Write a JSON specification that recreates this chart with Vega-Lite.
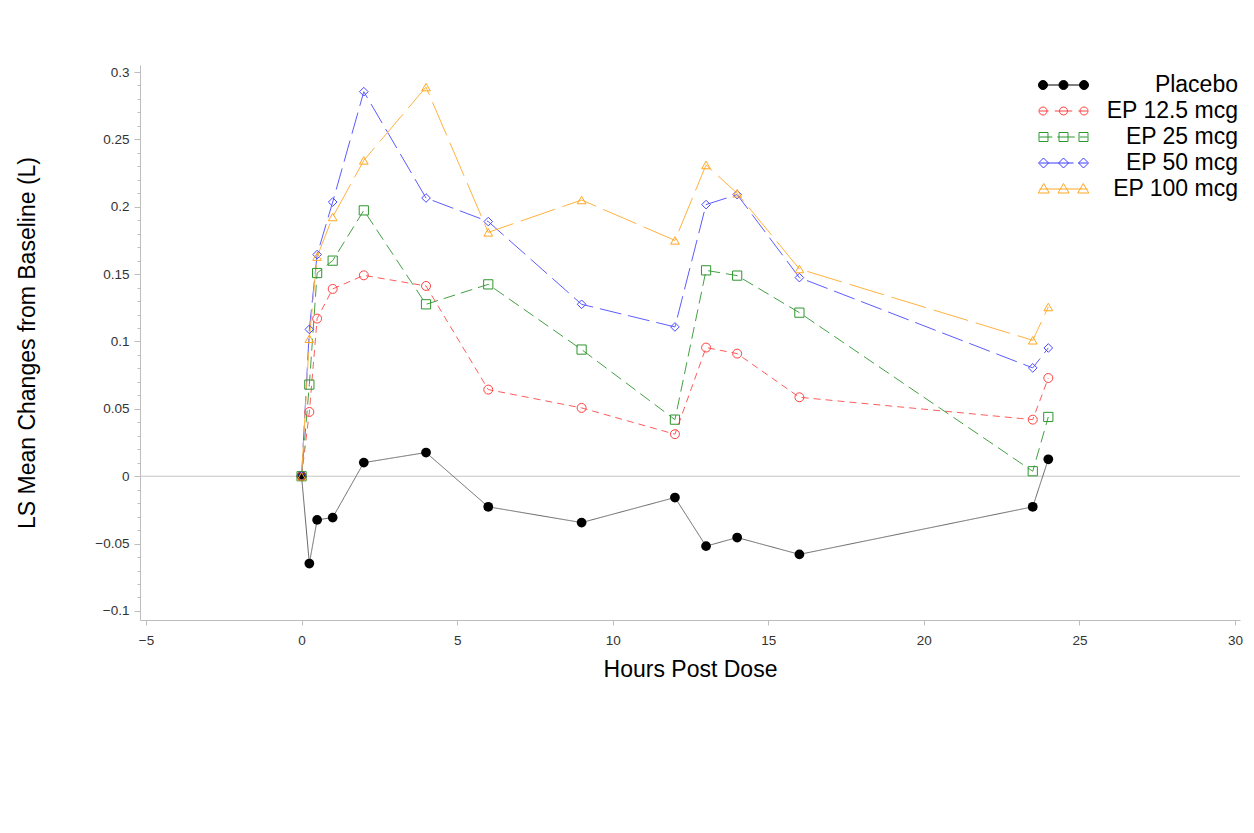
{
  "$schema": "https://vega.github.io/schema/vega-lite/v6.json",
  "width": 1100,
  "height": 555,
  "autosize": {"type": "none"},
  "padding": {"left": 140, "top": 65, "right": 14, "bottom": 213},
  "background": "white",
  "config": {
    "view": {"stroke": null},
    "font": "Liberation Sans",
    "axis": {
      "domainColor": "#BDBDBD",
      "tickColor": "#BDBDBD",
      "grid": false,
      "labelFont": "Liberation Sans",
      "labelColor": "#333333",
      "labelFontSize": 13.5,
      "titleFont": "Liberation Sans",
      "titleFontSize": 23,
      "titleFontWeight": "normal",
      "titleColor": "#000000"
    },
    "legend": {
      "orient": "none",
      "legendX": 898,
      "legendY": 7,
      "padding": 0,
      "labelFont": "Liberation Sans",
      "labelFontSize": 23,
      "labelColor": "#000000",
      "labelAlign": "right",
      "labelOffset": 149,
      "labelLimit": 400,
      "symbolSize": 2500,
      "symbolStrokeWidth": 1,
      "clipHeight": 26,
      "rowPadding": 0
    }
  },
  "data": {
    "values": [
      {"series": "Placebo", "hours": 0, "change": 0},
      {"series": "Placebo", "hours": 0.25, "change": -0.0648},
      {"series": "Placebo", "hours": 0.5, "change": -0.0324},
      {"series": "Placebo", "hours": 1, "change": -0.0307},
      {"series": "Placebo", "hours": 2, "change": 0.0101},
      {"series": "Placebo", "hours": 4, "change": 0.0176},
      {"series": "Placebo", "hours": 6, "change": -0.0227},
      {"series": "Placebo", "hours": 9, "change": -0.0344},
      {"series": "Placebo", "hours": 12, "change": -0.0158},
      {"series": "Placebo", "hours": 13, "change": -0.0519},
      {"series": "Placebo", "hours": 14, "change": -0.0455},
      {"series": "Placebo", "hours": 16, "change": -0.058},
      {"series": "Placebo", "hours": 23.5, "change": -0.0227},
      {"series": "Placebo", "hours": 24, "change": 0.0126},
      {"series": "EP 12.5 mcg", "hours": 0, "change": 0},
      {"series": "EP 12.5 mcg", "hours": 0.25, "change": 0.0477},
      {"series": "EP 12.5 mcg", "hours": 0.5, "change": 0.117},
      {"series": "EP 12.5 mcg", "hours": 1, "change": 0.139},
      {"series": "EP 12.5 mcg", "hours": 2, "change": 0.1491},
      {"series": "EP 12.5 mcg", "hours": 4, "change": 0.1412},
      {"series": "EP 12.5 mcg", "hours": 6, "change": 0.0643},
      {"series": "EP 12.5 mcg", "hours": 9, "change": 0.0507},
      {"series": "EP 12.5 mcg", "hours": 12, "change": 0.0312},
      {"series": "EP 12.5 mcg", "hours": 13, "change": 0.0955},
      {"series": "EP 12.5 mcg", "hours": 14, "change": 0.091},
      {"series": "EP 12.5 mcg", "hours": 16, "change": 0.0586},
      {"series": "EP 12.5 mcg", "hours": 23.5, "change": 0.042},
      {"series": "EP 12.5 mcg", "hours": 24, "change": 0.0729},
      {"series": "EP 25 mcg", "hours": 0, "change": 0},
      {"series": "EP 25 mcg", "hours": 0.25, "change": 0.068},
      {"series": "EP 25 mcg", "hours": 0.5, "change": 0.1508},
      {"series": "EP 25 mcg", "hours": 1, "change": 0.16},
      {"series": "EP 25 mcg", "hours": 2, "change": 0.1973},
      {"series": "EP 25 mcg", "hours": 4, "change": 0.1276},
      {"series": "EP 25 mcg", "hours": 6, "change": 0.1424},
      {"series": "EP 25 mcg", "hours": 9, "change": 0.094},
      {"series": "EP 25 mcg", "hours": 12, "change": 0.042},
      {"series": "EP 25 mcg", "hours": 13, "change": 0.1528},
      {"series": "EP 25 mcg", "hours": 14, "change": 0.1489},
      {"series": "EP 25 mcg", "hours": 16, "change": 0.1214},
      {"series": "EP 25 mcg", "hours": 23.5, "change": 0.0037},
      {"series": "EP 25 mcg", "hours": 24, "change": 0.044},
      {"series": "EP 50 mcg", "hours": 0, "change": 0},
      {"series": "EP 50 mcg", "hours": 0.25, "change": 0.109},
      {"series": "EP 50 mcg", "hours": 0.5, "change": 0.1645},
      {"series": "EP 50 mcg", "hours": 1, "change": 0.2035},
      {"series": "EP 50 mcg", "hours": 2, "change": 0.2854},
      {"series": "EP 50 mcg", "hours": 4, "change": 0.2065},
      {"series": "EP 50 mcg", "hours": 6, "change": 0.189},
      {"series": "EP 50 mcg", "hours": 9, "change": 0.1276},
      {"series": "EP 50 mcg", "hours": 12, "change": 0.1108},
      {"series": "EP 50 mcg", "hours": 13, "change": 0.2016},
      {"series": "EP 50 mcg", "hours": 14, "change": 0.209},
      {"series": "EP 50 mcg", "hours": 16, "change": 0.1474},
      {"series": "EP 50 mcg", "hours": 23.5, "change": 0.0804},
      {"series": "EP 50 mcg", "hours": 24, "change": 0.0952},
      {"series": "EP 100 mcg", "hours": 0, "change": 0},
      {"series": "EP 100 mcg", "hours": 0.25, "change": 0.102},
      {"series": "EP 100 mcg", "hours": 0.5, "change": 0.163},
      {"series": "EP 100 mcg", "hours": 1, "change": 0.1924},
      {"series": "EP 100 mcg", "hours": 2, "change": 0.2344},
      {"series": "EP 100 mcg", "hours": 4, "change": 0.2888},
      {"series": "EP 100 mcg", "hours": 6, "change": 0.181},
      {"series": "EP 100 mcg", "hours": 9, "change": 0.205},
      {"series": "EP 100 mcg", "hours": 12, "change": 0.175},
      {"series": "EP 100 mcg", "hours": 13, "change": 0.231},
      {"series": "EP 100 mcg", "hours": 14, "change": 0.21},
      {"series": "EP 100 mcg", "hours": 16, "change": 0.1538},
      {"series": "EP 100 mcg", "hours": 23.5, "change": 0.1009},
      {"series": "EP 100 mcg", "hours": 24, "change": 0.1256}
    ]
  },
  "encoding": {
    "x": {
      "field": "hours",
      "type": "quantitative",
      "title": "Hours Post Dose",
      "scale": {"domain": [-5.193, 30.161], "nice": false, "zero": false},
      "axis": {
        "values": [-5, 0, 5, 10, 15, 20, 25, 30],
        "tickSize": 5,
        "labelPadding": 8,
        "titlePadding": 12
      }
    },
    "y": {
      "field": "change",
      "type": "quantitative",
      "title": "LS Mean Changes from Baseline (L)",
      "scale": {"domain": [-0.1067, 0.3052], "nice": false, "zero": false},
      "axis": {
        "values": [-0.1, -0.09, -0.08, -0.07, -0.06, -0.05, -0.04, -0.03, -0.02, -0.01, 0, 0.01, 0.02, 0.03, 0.04, 0.05, 0.06, 0.07, 0.08, 0.09, 0.1, 0.11, 0.12, 0.13, 0.14, 0.15, 0.16, 0.17, 0.18, 0.19, 0.2, 0.21, 0.22, 0.23, 0.24, 0.25, 0.26, 0.27, 0.28, 0.29, 0.3],
        "format": "~g",
        "labelExpr": "abs(round(datum.value*100)) % 5 == 0 ? datum.label : ''",
        "tickSize": {"condition": {"test": "abs(round(datum.value*100)) % 5 == 0", "value": 6}, "value": 3},
        "labelPadding": 5,
        "titlePadding": 55
      }
    }
  },
  "layer": [
    {
      "data": {"values": [{"base": 0}]},
      "mark": {"type": "rule", "color": "#C4C4C4", "strokeWidth": 1},
      "encoding": {"x": null, "y": {"field": "base", "type": "quantitative"}}
    },
    {
      "mark": {"type": "line", "strokeWidth": 1},
      "encoding": {
        "detail": {"field": "series", "type": "nominal"},
        "stroke": {
          "field": "series",
          "type": "nominal",
          "scale": {
            "domain": ["EP 100 mcg", "EP 50 mcg", "EP 25 mcg", "EP 12.5 mcg", "Placebo"],
            "range": ["#FFB23F", "#5C5CFF", "#45A045", "#FF5C5C", "#666666"]
          },
          "legend": null
        },
        "strokeDash": {
          "field": "series",
          "type": "nominal",
          "scale": {
            "domain": ["EP 100 mcg", "EP 50 mcg", "EP 25 mcg", "EP 12.5 mcg", "Placebo"],
            "range": [[36, 8], [22, 7], [12, 6], [7, 5], [1, 0]]
          },
          "legend": null
        }
      }
    },
    {
      "transform": [{"filter": "datum.series == 'Placebo'"}],
      "mark": {"type": "point", "shape": "circle", "filled": true, "color": "#000000", "size": 95, "opacity": 1}
    },
    {
      "transform": [{"filter": "datum.series == 'EP 12.5 mcg'"}],
      "mark": {"type": "point", "shape": "circle", "filled": false, "color": "#FF4040", "size": 80, "strokeWidth": 1, "opacity": 1}
    },
    {
      "transform": [{"filter": "datum.series == 'EP 25 mcg'"}],
      "mark": {"type": "point", "shape": "square", "filled": false, "color": "#2E962E", "size": 85, "strokeWidth": 1, "opacity": 1}
    },
    {
      "transform": [{"filter": "datum.series == 'EP 50 mcg'"}],
      "mark": {"type": "point", "shape": "diamond", "filled": false, "color": "#4848FF", "size": 75, "strokeWidth": 1, "opacity": 1}
    },
    {
      "transform": [{"filter": "datum.series == 'EP 100 mcg'"}],
      "mark": {"type": "point", "shape": "triangle-up", "filled": false, "color": "#FFA722", "size": 75, "strokeWidth": 1, "opacity": 1}
    },
    {
      "data": {"values": []},
      "mark": {"type": "point", "filled": false, "opacity": 1, "strokeWidth": 1},
      "encoding": {
        "x": null,
        "y": null,
        "shape": {
          "field": "series",
          "type": "nominal",
          "title": null,
          "scale": {
            "domain": ["Placebo", "EP 12.5 mcg", "EP 25 mcg", "EP 50 mcg", "EP 100 mcg"],
            "range": [
              "M-0.95,0L0.95,0M-1,0a0.18,0.18 0 1,0 0.36,0a0.18,0.18 0 1,0 -0.36,0M-0.18,0a0.18,0.18 0 1,0 0.36,0a0.18,0.18 0 1,0 -0.36,0M0.64,0a0.18,0.18 0 1,0 0.36,0a0.18,0.18 0 1,0 -0.36,0",
              "M-0.96,0L-0.6,0M-0.35,0L0.35,0M0.6,0L0.96,0M-0.98,0a0.16,0.16 0 1,0 0.32,0a0.16,0.16 0 1,0 -0.32,0M-0.16,0a0.16,0.16 0 1,0 0.32,0a0.16,0.16 0 1,0 -0.32,0M0.66,0a0.16,0.16 0 1,0 0.32,0a0.16,0.16 0 1,0 -0.32,0",
              "M-0.96,0L-0.45,0M-0.25,0L0.45,0M0.65,0L0.96,0M-0.98,-0.18h0.36v0.36h-0.36ZM-0.18,-0.18h0.36v0.36h-0.36ZM0.62,-0.18h0.36v0.36h-0.36Z",
              "M-0.96,0L0.4,0M0.6,0L0.96,0M-0.8,-0.2L-0.6,0L-0.8,0.2L-1,0ZM0,-0.2L0.2,0L0,0.2L-0.2,0ZM0.8,-0.2L1,0L0.8,0.2L0.6,0Z",
              "M-0.96,0L0.96,0M-0.79,-0.22L-0.57,0.16L-1.01,0.16ZM0,-0.22L0.22,0.16L-0.22,0.16ZM0.79,-0.22L1.01,0.16L0.57,0.16Z"
            ]
          }
        },
        "color": {
          "field": "series",
          "type": "nominal",
          "title": null,
          "scale": {
            "domain": ["Placebo", "EP 12.5 mcg", "EP 25 mcg", "EP 50 mcg", "EP 100 mcg"],
            "range": ["#000000", "#FF4040", "#2E962E", "#3C3CFF", "#FFA722"]
          }
        },
        "fill": {
          "field": "series",
          "type": "nominal",
          "title": null,
          "scale": {
            "domain": ["Placebo", "EP 12.5 mcg", "EP 25 mcg", "EP 50 mcg", "EP 100 mcg"],
            "range": ["#000000", "transparent", "transparent", "transparent", "transparent"]
          }
        }
      }
    }
  ]
}
